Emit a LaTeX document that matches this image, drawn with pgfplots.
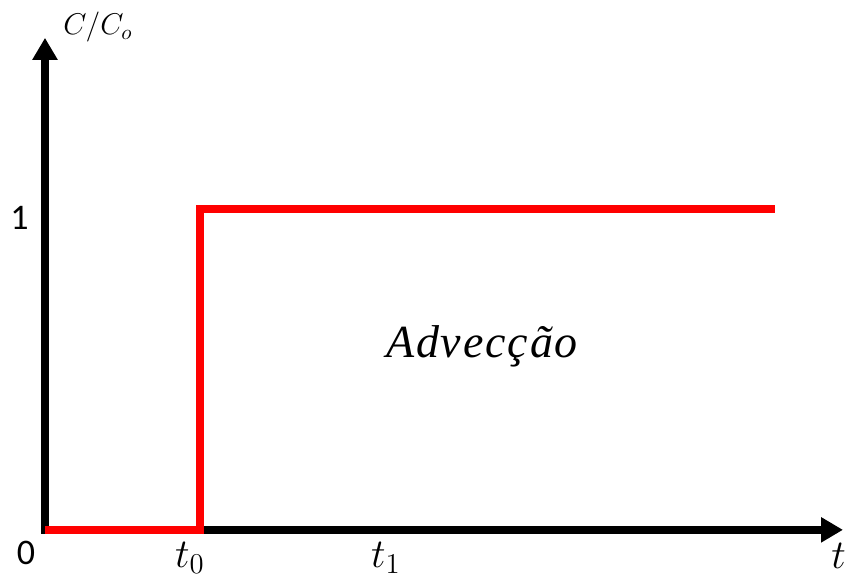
\RequirePackage{fix-cm}
\documentclass[border=0pt]{standalone}
\usepackage[no-math]{fontspec}
\usepackage{pgfplots}
\pgfplotsset{compat=1.18}
\usetikzlibrary{arrows.meta}
\newfontfamily\carlito{Carlito}
\newfontfamily\advfont{Liberation Serif}[LetterSpace=4]

\begin{document}
\begin{tikzpicture}
\begin{axis}[
  scale only axis,
  width=399pt, height=246pt,
  xmin=0, xmax=7.98,
  ymin=0, ymax=1.533,
  axis lines=left,
  axis line style={line width=4pt, line cap=rect, black,
    -{Triangle[length=11pt, width=12pt]}},
  xtick=\empty, ytick=\empty,
  clip=false,
]
  % step input: concentration jumps from 0 to 1 at t_0
  \addplot[red, line width=4pt, line join=miter] coordinates {
    (0,0) (1.55,0) (1.55,1) (7.30,1)
  };

  \node[font=\carlito\fontsize{18}{18}\selectfont] at (axis cs:-0.19,-0.072) {0};
  \node[font=\carlito\fontsize{18}{18}\selectfont] at (axis cs:-0.255,0.972) {1};

  \node[anchor=base, font=\fontsize{20.5}{21}\selectfont] at (axis cs:1.45,-0.118) {$t_0$};
  \node[anchor=base, font=\fontsize{20.5}{21}\selectfont] at (axis cs:3.41,-0.118) {$t_1$};
  \node[anchor=base west, inner sep=0pt, font=\fontsize{20.5}{21}\selectfont] at (axis cs:7.86,-0.121) {$t$};

  \node[anchor=base west, inner sep=0pt, font=\fontsize{15}{15}\selectfont] at (axis cs:0.18,1.542) {$C/C_o$};

  \node[anchor=base, font=\advfont\itshape\fontsize{23}{23}\selectfont] at (axis cs:4.37,0.536) {Advecção};

  \coordinate (BL) at (axis cs:-0.45,-0.153);
  \coordinate (TR) at (axis cs:8.02,1.651);
\end{axis}
\pgfresetboundingbox
\useasboundingbox (BL) rectangle (TR);
\end{tikzpicture}
\end{document}
